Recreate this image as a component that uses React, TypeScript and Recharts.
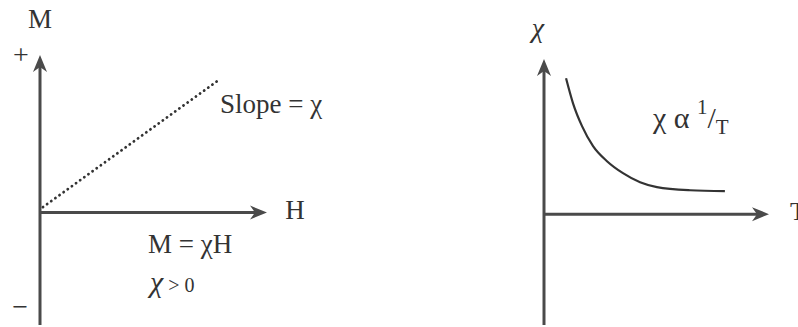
import { Line, LineChart, ReferenceDot, ReferenceLine, XAxis, YAxis } from "recharts";

// left panel: M against H, straight dotted line through the origin
const fieldH = [0.13, 7.93];
const magM = [0.24, 5.93];

// right panel: chi against T, falling like 1/T
const tempT = [0.98, 1.29, 1.69, 2.18, 2.8, 3.51, 4.27, 5.02, 6.49, 8.04];
const chiVals = [6.13, 5.0, 3.97, 3.07, 2.39, 1.85, 1.44, 1.22, 1.08, 1.04];

const INK = "#333333";
const AXIS = "#4a4a4a";
const FONT = "'Liberation Serif', 'Times New Roman', serif";

const lineData = fieldH.map((h, i) => ({ h, m: magM[i] }));
const curveData = tempT.map((t, i) => ({ t, chi: chiVals[i] }));

// axis line with a filled arrow head at its second end
const ArrowShape = (props: any) => {
  const { x1, y1, x2, y2 } = props;
  const ang = Math.atan2(y2 - y1, x2 - x1);
  const c = Math.cos(ang);
  const s = Math.sin(ang);
  const len = 17;
  const half = 7;
  const notch = 12;
  const pt = (back: number, side: number) =>
    `${x2 - c * back - s * side},${y2 - s * back + c * side}`;
  return (
    <g>
      <line x1={x1} y1={y1} x2={x2 - c * notch} y2={y2 - s * notch} stroke={AXIS} strokeWidth={3} />
      <polygon points={`${x2},${y2} ${pt(len, half)} ${pt(notch, 0)} ${pt(len, -half)}`} fill={AXIS} />
    </g>
  );
};

const textShape =
  (content: React.ReactNode, size = 26, anchor: "start" | "middle" = "start", italic = false) =>
  (props: any) => (
    <text
      x={props.cx}
      y={props.cy}
      fontFamily={FONT}
      fontSize={size}
      fill={INK}
      textAnchor={anchor}
      fontStyle={italic ? "italic" : "normal"}
    >
      {content}
    </text>
  );

const Note = ({ x, y, shape }: { x: number; y: number; shape: any }) => (
  <ReferenceDot x={x} y={y} r={0} ifOverflow="visible" shape={shape} />
);

export default function App() {
  return (
    <div style={{ position: "absolute", left: 0, top: 0, width: 798, height: 327, background: "#fff" }}>
      <div style={{ position: "absolute", left: 0, top: 0 }}>
        <LineChart width={400} height={327} data={lineData} margin={{ top: 55, right: 133, bottom: 2, left: 40 }}>
          <XAxis type="number" dataKey="h" domain={[0, 10]} hide />
          <YAxis type="number" domain={[-5, 7]} hide />
          <ReferenceLine segment={[{ x: 0, y: -5 }, { x: 0, y: 7 }]} shape={ArrowShape} />
          <ReferenceLine segment={[{ x: 0, y: 0 }, { x: 10, y: 0 }]} shape={ArrowShape} />
          <Line
            dataKey="m"
            type="linear"
            stroke={INK}
            strokeWidth={2.8}
            strokeDasharray="0.1 5"
            strokeLinecap="round"
            dot={false}
            activeDot={false}
            isAnimationActive={false}
          />
          {Note({ x: 0, y: 8.2, shape: textShape("M", 27, "middle") })}
          {Note({ x: -0.84, y: 6.6, shape: textShape("+", 28, "middle") })}
          {Note({ x: -0.88, y: -4.6, shape: textShape("−", 28, "middle") })}
          {Note({ x: 10.8, y: -0.29, shape: textShape("H", 27) })}
          {Note({ x: 7.93, y: 4.42, shape: textShape("Slope = χ", 27) })}
          {Note({ x: 4.76, y: -1.8, shape: textShape("M = χH", 27) })}
          {Note({
            x: 4.85,
            y: -3.53,
            shape: textShape(
              <>
                <tspan fontStyle="italic" fontSize={30}>χ</tspan>
                <tspan fontSize={20}> &gt; 0</tspan>
              </>
            ),
          })}
        </LineChart>
      </div>
      <div style={{ position: "absolute", left: 400, top: 0 }}>
        <LineChart width={398} height={327} data={curveData} margin={{ top: 59, right: 29, bottom: 2, left: 144 }}>
          <XAxis type="number" dataKey="t" domain={[0, 10]} hide />
          <YAxis type="number" domain={[-5, 7]} hide />
          <ReferenceLine segment={[{ x: 0, y: -5 }, { x: 0, y: 7 }]} shape={ArrowShape} />
          <ReferenceLine segment={[{ x: 0, y: 0 }, { x: 10, y: 0 }]} shape={ArrowShape} />
          <Line
            dataKey="chi"
            type="monotone"
            stroke={INK}
            strokeWidth={2.2}
            dot={false}
            activeDot={false}
            isAnimationActive={false}
          />
          {Note({ x: -0.27, y: 7.98, shape: textShape("χ", 28, "middle", true) })}
          {Note({ x: 10.93, y: -0.27, shape: textShape("T", 26) })}
          {Note({
            x: 4.84,
            y: 3.88,
            shape: textShape(
              <>
                χ α <tspan dy={-14} fontSize={21}>1</tspan>
                <tspan dy={14} fontSize={30}>/</tspan>
                <tspan dy={6} fontSize={21}>T</tspan>
              </>,
              30
            ),
          })}
        </LineChart>
      </div>
    </div>
  );
}
